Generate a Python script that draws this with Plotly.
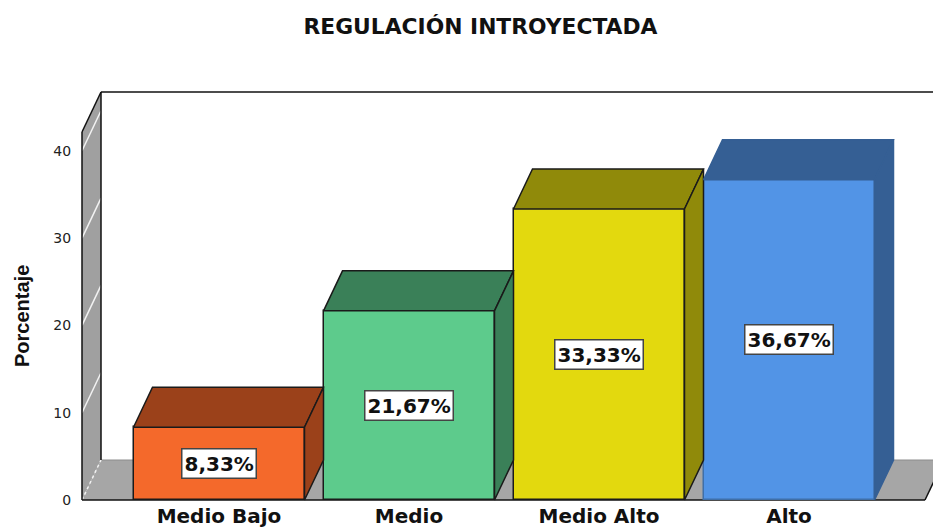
import plotly.graph_objects as go

categories = ["Medio Bajo", "Medio", "Medio Alto", "Alto"]
values = [8.33, 21.67, 33.33, 36.67]
labels = ["8,33%", "21,67%", "33,33%", "36,67%"]
front_colors = ["#F4692B", "#5DCB8C", "#E3D90E", "#5294E6"]
side_colors = ["#9B411A", "#3A8058", "#908A0A", "#355F94"]
edge_colors = ["#1a1a1a", "#1a1a1a", "#1a1a1a", "#3F6FA8"]
y_ticks = [0, 10, 20, 30, 40]

W, H = 933, 530
ML, MT, MB = 80, 90, 28
PX_PER_CAT = 190.0
PX_PER_UNIT = 8.73
BAR_W = 171 / PX_PER_CAT
DX = 19 / PX_PER_CAT
DY = 40 / PX_PER_UNIT
C0_PX = 219
xmin = (ML - C0_PX) / PX_PER_CAT
xmax = (W - C0_PX) / PX_PER_CAT
ymin = -2 / PX_PER_UNIT
ymax = ymin + (H - MT - MB) / PX_PER_UNIT
XL = (82 - C0_PX) / PX_PER_CAT
XR = (925 - C0_PX) / PX_PER_CAT
WALL_TOP = (500 - 132) / PX_PER_UNIT
SANS = "DejaVu Sans, Verdana, sans-serif"

fig = go.Figure()
idx = list(range(len(categories)))
fig.add_trace(go.Bar(
    x=idx, y=values, width=BAR_W,
    marker=dict(color=front_colors, line=dict(color=edge_colors, width=1.5)),
    showlegend=False, hoverinfo="skip",
))
for i, v in zip(idx, values):
    l, r = i - BAR_W / 2, i + BAR_W / 2
    for xs, ys in [
        ([l, l + DX, r + DX, r, l], [v, v + DY, v + DY, v, v]),
        ([r, r + DX, r + DX, r, r], [v, v + DY, DY, 0, v]),
    ]:
        fig.add_trace(go.Scatter(
            x=xs, y=ys, mode="lines", fill="toself", fillcolor=side_colors[i],
            line=dict(color=edge_colors[i] if i < 3 else side_colors[i], width=1.5),
            showlegend=False, hoverinfo="skip",
        ))

def poly(xs, ys):
    return "M " + " L ".join(f"{x},{y}" for x, y in zip(xs, ys)) + " Z"

shapes = [
    dict(type="path", xref="x", yref="y", layer="below", line=dict(width=0), fillcolor="#A6A6A6",
         path=poly([XL, XL + DX, XR + DX, XR], [0, DY, DY, 0])),
    dict(type="path", xref="x", yref="y", layer="below", line=dict(width=0), fillcolor="#A0A0A0",
         path=poly([XL, XL + DX, XL + DX, XL], [0, DY, WALL_TOP + DY, WALL_TOP])),
    dict(type="line", xref="x", yref="y", layer="below", x0=XL + DX, x1=xmax, y0=DY, y1=DY,
         line=dict(color="#8c8c8c", width=1)),
]
for t in y_ticks:
    shapes.append(dict(type="line", xref="x", yref="y", layer="below",
                       x0=XL, x1=XL + DX, y0=t, y1=t + DY,
                       line=dict(color="#F2F2F2", width=1.5, dash="dot" if t == 0 else "solid")))
for x0, y0, x1, y1 in [
    (XL + DX, DY, XL + DX, WALL_TOP + DY),
    (XL + DX, WALL_TOP + DY, xmax, WALL_TOP + DY),
    (XL, WALL_TOP, XL + DX, WALL_TOP + DY),
    (XL, 0, XL, WALL_TOP),
    (XL, 0, XR, 0),
    (XR, 0, XR + DX, DY),
]:
    shapes.append(dict(type="line", xref="x", yref="y", layer="below",
                       x0=x0, y0=y0, x1=x1, y1=y1, line=dict(color="#111111", width=1.5)))

annotations = [
    dict(x=i, y=v / 2, xref="x", yref="y", text=f"<b>{lab}</b>", showarrow=False,
         bgcolor="white", bordercolor="#444444", borderwidth=1.5, borderpad=2,
         font=dict(family=SANS, size=20, color="#111111"))
    for i, v, lab in zip(idx, values, labels)
]
annotations.append(dict(
    x=(22 - ML) / (W - ML), y=(H - MB - 316) / (H - MT - MB), xref="paper", yref="paper",
    text="<b>Porcentaje</b>", textangle=-90, showarrow=False,
    xanchor="center", yanchor="middle",
    font=dict(family="Liberation Sans, Arial, sans-serif", size=20, color="#111111"),
))

fig.update_layout(
    width=W, height=H, autosize=False,
    margin=dict(l=ML, r=0, t=MT, b=MB, pad=0, autoexpand=False),
    paper_bgcolor="white", plot_bgcolor="white",
    bargap=0,
    title=dict(text="<b>REGULACIÓN INTROYECTADA</b>", x=480.5 / W, xanchor="center",
               y=1 - 26 / H, yanchor="middle", automargin=False,
               font=dict(family=SANS, size=21.8, color="#111111")),
    xaxis=dict(range=[xmin, xmax], tickmode="array", tickvals=idx, automargin=False,
               ticktext=[f"<b>{c}</b>" for c in categories],
               showgrid=False, zeroline=False, showline=False, ticks="",
               tickfont=dict(family=SANS, size=20, color="#111111")),
    yaxis=dict(range=[ymin, ymax], tickmode="array", tickvals=y_ticks, automargin=False,
               showgrid=False, zeroline=False, showline=False,
               ticks="outside", ticklen=5, tickcolor="rgba(0,0,0,0)",
               tickfont=dict(family=SANS, size=14, color="#222222")),
    shapes=shapes, annotations=annotations,
)
fig.write_html("out.html", config={"displayModeBar": False},
               post_script="document.body.style.margin='0';")
